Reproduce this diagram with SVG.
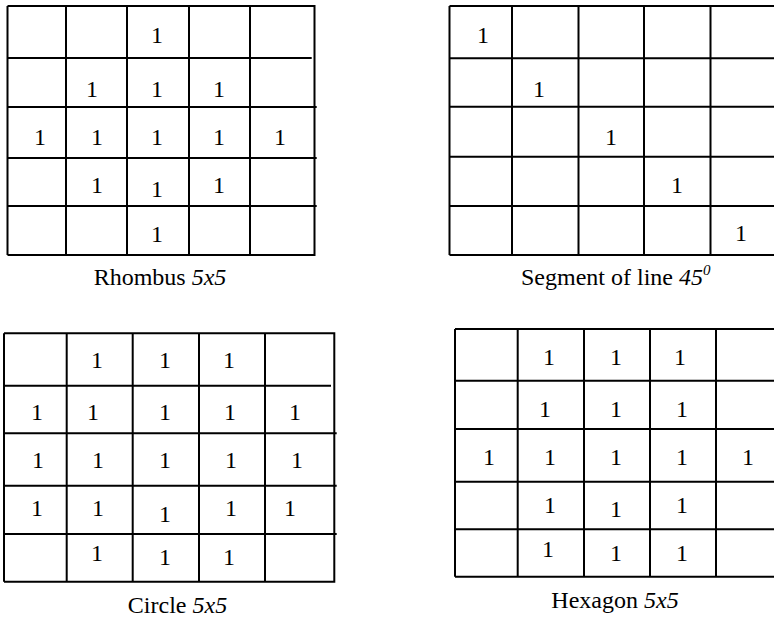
<svg xmlns="http://www.w3.org/2000/svg" width="774" height="618" viewBox="0 0 774 618">
<style>
.g{fill:none;stroke:#000;stroke-width:2;stroke-linecap:butt}
.d{font-family:'Liberation Serif',Tinos,'Times New Roman',Times,'DejaVu Serif',serif;font-size:24px;fill:#000;text-anchor:middle}
.l{font-family:'Liberation Serif',Tinos,'Times New Roman',Times,'DejaVu Serif',serif;font-size:24px;fill:#000}
.i{font-style:italic}
</style>
<rect width="774" height="618" fill="#fff"/>
<g id="rhombus">
<path class="g" d="M7.5 6V255M66 6V255M127 6V255M189 6V255M250 6V255M314.5 5V256M7.5 6H314.5M7.5 58H311.7M7.5 107H316.7M7.5 158H316.7M7.5 206H316.7M7.5 255H314.5"/>
<text class="d" x="157" y="43">1</text>
<text class="d" x="92" y="97">1</text><text class="d" x="157" y="97">1</text><text class="d" x="219" y="97">1</text>
<text class="d" x="40" y="145">1</text><text class="d" x="97" y="145">1</text><text class="d" x="157" y="145">1</text><text class="d" x="219" y="145">1</text><text class="d" x="280" y="145">1</text>
<text class="d" x="97" y="193">1</text><text class="d" x="157" y="197">1</text><text class="d" x="219" y="193">1</text>
<text class="d" x="157" y="242">1</text>
<text class="l" x="160" y="285" text-anchor="middle">Rhombus <tspan class="i">5x5</tspan></text>
</g>
<g id="segment">
<path class="g" d="M449.5 6V255M512 6V255M578.5 6V255M644 6V255M710.5 6V255M449.5 6H774M449.5 58.3H774M449.5 106.7H774M449.5 156.7H774M449.5 206H774M449.5 255H774"/>
<text class="d" x="483" y="43">1</text>
<text class="d" x="539" y="97">1</text>
<text class="d" x="611" y="145">1</text>
<text class="d" x="677" y="193">1</text>
<text class="d" x="741" y="241">1</text>
<text class="l" x="521" y="285">Segment of line <tspan class="i">45</tspan><tspan class="i" font-size="15" dy="-10">0</tspan></text>
</g>
<g id="circle">
<path class="g" d="M4 333.3V581.7M66.7 333.3V581.7M132.7 333.3V581.7M199 333.3V581.7M265 333.3V581.7M334.3 332.3V582.7M4 333.3H334.3M4 385.7H331M4 433.3H336.7M4 485.7H336.7M4 534H336.7M4 581.7H334.3"/>
<text class="d" x="97" y="368">1</text><text class="d" x="165" y="368">1</text><text class="d" x="229" y="368">1</text>
<text class="d" x="37" y="420">1</text><text class="d" x="93" y="420">1</text><text class="d" x="165" y="420">1</text><text class="d" x="230" y="420">1</text><text class="d" x="295" y="420">1</text>
<text class="d" x="38" y="468">1</text><text class="d" x="98" y="468">1</text><text class="d" x="165" y="468">1</text><text class="d" x="231" y="468">1</text><text class="d" x="297" y="468">1</text>
<text class="d" x="37" y="516">1</text><text class="d" x="98" y="516">1</text><text class="d" x="165" y="522">1</text><text class="d" x="231" y="516">1</text><text class="d" x="290" y="516">1</text>
<text class="d" x="97" y="561">1</text><text class="d" x="165" y="565">1</text><text class="d" x="229" y="565">1</text>
<text class="l" x="177.5" y="613" text-anchor="middle">Circle <tspan class="i">5x5</tspan></text>
</g>
<g id="hexagon">
<path class="g" d="M455 329V576.7M517.7 329V576.7M584 329V576.7M650 329V576.7M716 329V576.7M455 329H774M455 380.7H774M455 429H774M455 481.7H774M455 529.3H774M455 576.7H774"/>
<text class="d" x="549" y="365">1</text><text class="d" x="616" y="365">1</text><text class="d" x="680" y="365">1</text>
<text class="d" x="545" y="417">1</text><text class="d" x="616" y="417">1</text><text class="d" x="682" y="417">1</text>
<text class="d" x="489" y="465">1</text><text class="d" x="550" y="465">1</text><text class="d" x="616" y="465">1</text><text class="d" x="682" y="465">1</text><text class="d" x="748" y="465">1</text>
<text class="d" x="550" y="513">1</text><text class="d" x="616" y="517">1</text><text class="d" x="682" y="513">1</text>
<text class="d" x="548" y="557">1</text><text class="d" x="616" y="561">1</text><text class="d" x="682" y="561">1</text>
<text class="l" x="615" y="608" text-anchor="middle">Hexagon <tspan class="i">5x5</tspan></text>
</g>
</svg>
